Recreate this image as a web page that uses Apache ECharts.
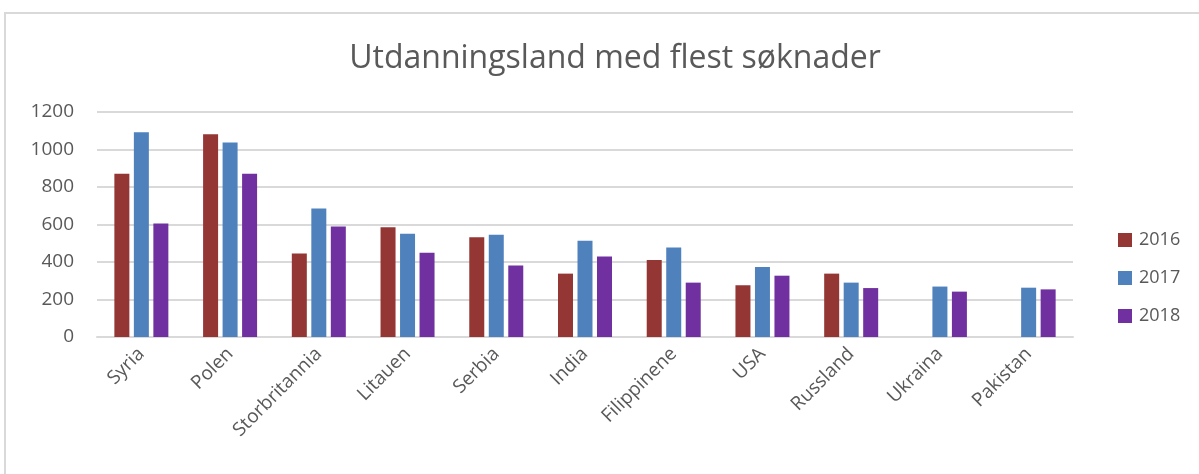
<!DOCTYPE html>
<html>
<head>
<meta charset="utf-8">
<script src="https://cdn.jsdelivr.net/npm/echarts@6/dist/echarts.min.js"></script>
<style>
  body { margin: 0; background: #fff; }
  #frame {
    position: absolute; left: 4px; top: 12px; right: -2px; bottom: -2px;
    border-left: 2px solid #d9d9d9; border-top: 2px solid #d9d9d9;
  }
  #chart { position: absolute; left: 0; top: 0; width: 1199px; height: 474px; }
</style>
</head>
<body>
<div id="frame"></div>
<div id="chart"></div>
<script>
var countries = ['Syria', 'Polen', 'Storbritannia', 'Litauen', 'Serbia', 'India',
  'Filippinene', 'USA', 'Russland', 'Ukraina', 'Pakistan'];
var years = ['2016', '2017', '2018'];
var v2016 = [871, 1081, 445, 585, 532, 338, 411, 276, 338, null, null];
var v2017 = [1092, 1037, 685, 551, 546, 514, 478, 373, 290, 269, 263];
var v2018 = [605, 871, 590, 450, 382, 429, 290, 327, 261, 242, 254];
var yTicks = [0, 200, 400, 600, 800, 1000, 1200];
var colors = ['#943634', '#4f81bd', '#7030a0'];

var font = 'Open Sans';
var chart = echarts.init(document.getElementById('chart'));
var seriesData = [v2016, v2017, v2018];
chart.setOption({
  animation: false,
  title: {
    text: 'Utdanningsland med flest søknader',
    left: 610, top: 38, textAlign: 'center',
    textStyle: { fontFamily: font, fontSize: 32, fontWeight: 'normal', color: '#595959' }
  },
  legend: {
    orient: 'vertical',
    left: 1113, top: 226,
    itemWidth: 14, itemHeight: 14, itemGap: 20,
    icon: 'rect',
    data: years,
    textStyle: { fontFamily: font, fontSize: 18, color: '#595959', padding: [0, 0, 0, 2] }
  },
  grid: { left: 97, right: 126, top: 112, bottom: 137, containLabel: false },
  xAxis: {
    type: 'category',
    data: countries,
    axisLine: { lineStyle: { color: '#d9d9d9', width: 2 } },
    axisTick: { show: false },
    axisLabel: {
      rotate: 45, margin: 14, interval: 0,
      fontFamily: font, fontSize: 19, color: '#595959'
    }
  },
  yAxis: {
    type: 'value',
    min: yTicks[0], max: yTicks[yTicks.length - 1], interval: 200,
    axisLine: { show: false },
    axisTick: { show: false },
    splitLine: { lineStyle: { color: '#d9d9d9', width: 2 } },
    axisLabel: {
      margin: 23, fontFamily: font, fontSize: 19, color: '#595959',
      formatter: function (v) { return String(v); }
    }
  },
  series: years.map(function (y, i) {
    return {
      name: y,
      type: 'bar',
      data: seriesData[i],
      barWidth: 15,
      barGap: '30%',
      itemStyle: { color: colors[i] }
    };
  })
});
</script>
</body>
</html>
